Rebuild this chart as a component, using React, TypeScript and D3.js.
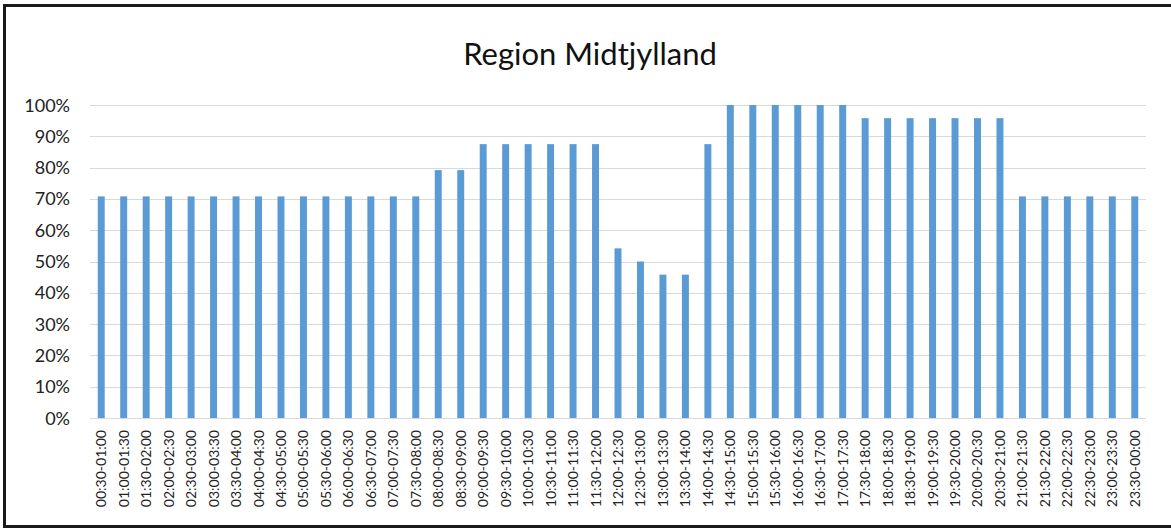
import React, { useRef, useEffect } from 'react';
import * as d3 from 'd3';

// half-hour slots, 00:30-01:00 ... 23:30-00:00
const slots: string[] = [
  '00:30-01:00', '01:00-01:30', '01:30-02:00', '02:00-02:30', '02:30-03:00', '03:00-03:30',
  '03:30-04:00', '04:00-04:30', '04:30-05:00', '05:00-05:30', '05:30-06:00', '06:00-06:30',
  '06:30-07:00', '07:00-07:30', '07:30-08:00', '08:00-08:30', '08:30-09:00', '09:00-09:30',
  '09:30-10:00', '10:00-10:30', '10:30-11:00', '11:00-11:30', '11:30-12:00', '12:00-12:30',
  '12:30-13:00', '13:00-13:30', '13:30-14:00', '14:00-14:30', '14:30-15:00', '15:00-15:30',
  '15:30-16:00', '16:00-16:30', '16:30-17:00', '17:00-17:30', '17:30-18:00', '18:00-18:30',
  '18:30-19:00', '19:00-19:30', '19:30-20:00', '20:00-20:30', '20:30-21:00', '21:00-21:30',
  '21:30-22:00', '22:00-22:30', '22:30-23:00', '23:00-23:30', '23:30-00:00',
];

// coverage share per slot
const coverage: number[] = [
  0.708, 0.708, 0.708, 0.708, 0.708, 0.708, 0.708, 0.708, 0.708, 0.708, 0.708, 0.708,
  0.708, 0.708, 0.708, 0.792, 0.792, 0.875, 0.875, 0.875, 0.875, 0.875, 0.875, 0.542,
  0.5, 0.458, 0.458, 0.875, 1, 1, 1, 1, 1, 1, 0.958, 0.958,
  0.958, 0.958, 0.958, 0.958, 0.958, 0.708, 0.708, 0.708, 0.708, 0.708, 0.708,
];

const yTicks: number[] = [0, 0.1, 0.2, 0.3, 0.4, 0.5, 0.6, 0.7, 0.8, 0.9, 1];

const W = 1171;
const H = 529;
const FONT = 'Lato, "Open Sans", sans-serif';

const App = () => {
  const ref = useRef<SVGSVGElement>(null);

  useEffect(() => {
    document.body.style.margin = '0';
    if (!ref.current) return;
    const svg = d3.select(ref.current);
    svg.selectAll('*').remove();

    const left = 90, right = 1146, top = 105, bottom = 418;

    // bars centred in each category slot, like Excel
    const x = d3.scaleBand<string>().domain(slots).range([left, right])
      .paddingInner(0.69).paddingOuter(0.345);
    const y = d3.scaleLinear().domain([0, 1]).range([bottom, top]);

    svg.append('rect')
      .attr('x', 0).attr('y', 0).attr('width', W).attr('height', H)
      .attr('fill', '#fff');

    // frame
    svg.append('rect')
      .attr('x', 4.5).attr('y', 5.5).attr('width', W + 10).attr('height', 521)
      .attr('fill', 'none').attr('stroke', '#1a1a1a').attr('stroke-width', 3);

    svg.append('text')
      .attr('x', 590).attr('y', 65)
      .attr('text-anchor', 'middle')
      .attr('font-family', FONT).attr('font-size', 31)
      .attr('fill', '#111')
      .text('Region Midtjylland');

    // gridlines
    svg.append('g').selectAll('line').data(yTicks).enter().append('line')
      .attr('x1', left).attr('x2', right)
      .attr('y1', (d) => Math.round(y(d)) + 0.5).attr('y2', (d) => Math.round(y(d)) + 0.5)
      .attr('stroke', '#d9d9d9').attr('stroke-width', 1);

    svg.append('g').selectAll('text').data(yTicks).enter().append('text')
      .attr('x', 70).attr('y', (d) => y(d) + 6.5)
      .attr('text-anchor', 'end')
      .attr('font-family', FONT).attr('font-size', 18)
      .attr('fill', '#222')
      .text((d) => d3.format('.0%')(d));

    svg.append('g').selectAll('rect').data(coverage).enter().append('rect')
      .attr('x', (d, i) => x(slots[i])!)
      .attr('width', x.bandwidth())
      .attr('y', (d) => y(d))
      .attr('height', (d) => bottom - y(d))
      .attr('fill', '#5b9bd5');

    svg.append('g').selectAll('text').data(slots).enter().append('text')
      .attr('transform', (d) => `translate(${x(d)! + x.bandwidth() / 2 + 5}, 430) rotate(-90)`)
      .attr('text-anchor', 'end')
      .attr('font-family', FONT).attr('font-size', 14)
      .attr('fill', '#222')
      .text((d) => d);
  }, []);

  return <svg ref={ref} width={W} height={H} style={{ display: 'block' }} />;
};

export default App;
